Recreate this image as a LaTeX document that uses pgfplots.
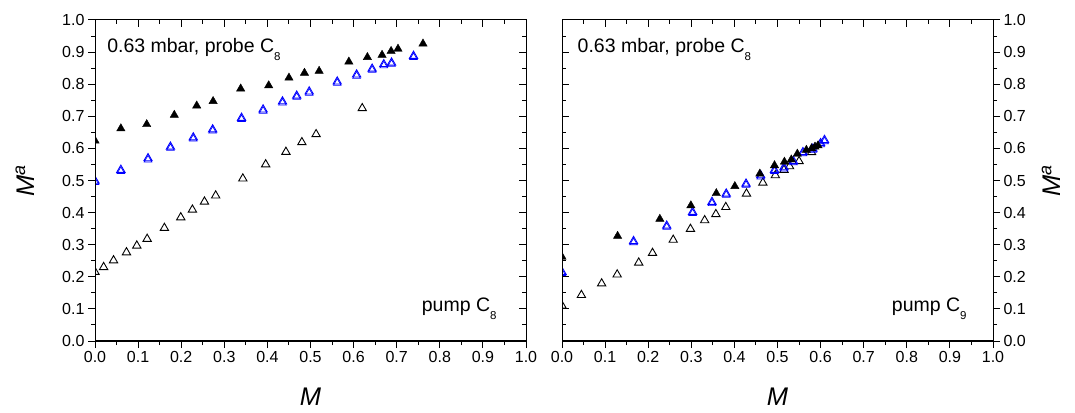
\documentclass[border=0pt]{standalone}
\usepackage{pgfplots}
\pgfplotsset{compat=1.18}
\usepackage{fontspec}
\setmainfont{Liberation Sans}
\newcommand{\sub}[1]{\raisebox{-0.42em}{\fontsize{11.5}{12}\selectfont #1}}

\pgfplotstableread{
x y
0 0.624
0.06 0.662
0.12 0.675
0.184 0.704
0.236 0.733
0.274 0.747
0.338 0.786
0.403 0.796
0.45 0.82
0.486 0.835
0.52 0.841
0.589 0.870
0.632 0.884
0.666 0.891
0.687 0.903
0.703 0.910
0.761 0.926
}\LeftFilled
\pgfplotstableread{
x y
0 0.499
0.06 0.533
0.123 0.569
0.175 0.605
0.228 0.634
0.273 0.659
0.34 0.695
0.39 0.721
0.435 0.746
0.468 0.764
0.497 0.777
0.562 0.808
0.607 0.830
0.643 0.848
0.670 0.862
0.688 0.867
0.739 0.888
}\LeftBlue
\pgfplotstableread{
x y
0 0.215
0.02 0.23
0.043 0.251
0.073 0.276
0.097 0.297
0.121 0.318
0.161 0.352
0.199 0.385
0.226 0.409
0.254 0.434
0.280 0.453
0.343 0.506
0.396 0.550
0.443 0.589
0.48 0.619
0.513 0.644
0.620 0.725
}\LeftOpen
\pgfplotstableread{
x y
0 0.262
0.129 0.327
0.227 0.380
0.299 0.422
0.358 0.46
0.401 0.482
0.459 0.521
0.493 0.547
0.516 0.558
0.532 0.565
0.546 0.583
0.567 0.595
0.579 0.600
0.587 0.605
0.594 0.609
}\RightFilled
\pgfplotstableread{
x y
0 0.215
0.166 0.311
0.243 0.359
0.303 0.402
0.348 0.433
0.381 0.459
0.427 0.490
0.461 0.516
0.493 0.533
0.515 0.541
0.537 0.560
0.559 0.588
0.582 0.599
0.600 0.616
0.609 0.626
}\RightBlue
\pgfplotstableread{
x y
0 0.11
0.045 0.143
0.092 0.179
0.128 0.207
0.178 0.244
0.210 0.274
0.258 0.315
0.298 0.349
0.331 0.376
0.357 0.395
0.38 0.417
0.428 0.459
0.466 0.493
0.495 0.516
0.515 0.533
0.528 0.544
0.55 0.56
0.579 0.588
}\RightOpen

\pgfplotsset{
  panel/.style={
    scale only axis, width=431pt, height=321pt,
    xmin=0, xmax=1, ymin=0, ymax=1,
    clip marker paths=true,
    xtick={0,0.1,...,1.0}, ytick={0,0.1,...,1.0},
    minor x tick num=1, minor y tick num=1,
    axis line style={line width=1pt},
    every tick/.style={line width=1pt, black},
    major tick length=7pt, minor tick length=4pt,
    ticklabel style={font=\fontsize{16}{19}\selectfont},
    /pgf/number format/.cd, fixed, fixed zerofill, precision=1, assume math mode=true,
  },
  overlay/.style={
    panel, tick align=inside, xtick pos=top,
    xticklabels={}, yticklabels={},
  },
  openmk/.style={only marks, mark=triangle, mark size=4.8pt, mark options={black, line width=0.9pt}},
  bluemk/.style={only marks, mark=triangle, mark size=4.8pt, mark options={blue, line width=0.9pt}},
  bluemk2/.style={only marks, mark=triangle, mark size=4.4pt, mark options={blue, fill=blue!22, line width=0.7pt, yshift=-1.4pt}},
  filledmk/.style={only marks, mark=triangle*, mark size=4.8pt, mark options={black, fill=black}},
}

\begin{document}
\begin{tikzpicture}
\useasboundingbox (0,0) rectangle (1075pt,412pt);
% ---------- left panel ----------
\begin{axis}[panel, at={(95pt,71pt)}, anchor=south west,
  tick align=outside, xtick pos=bottom, ytick pos=left,
  xlabel={\fontsize{25.5}{28}\selectfont\itshape M},
  ylabel={\fontsize{25.5}{28}\selectfont\itshape M\textsuperscript{a}},
  xlabel style={at={(axis description cs:0.5,-0.175)}, anchor=center},
  ylabel style={at={(axis description cs:-0.163,0.5)}, anchor=center},
]
\addplot[openmk] table {\LeftOpen};
\addplot[bluemk2] table {\LeftBlue};
\addplot[bluemk] table {\LeftBlue};
\addplot[filledmk] table {\LeftFilled};
\node[anchor=base west, font=\fontsize{19.5}{22}\selectfont, inner sep=0pt] at (rel axis cs:0.028,0.90) {0.63 mbar, probe C\sub{8}};
\node[anchor=base west, font=\fontsize{19.5}{22}\selectfont, inner sep=0pt] at (rel axis cs:0.758,0.091) {pump C\sub{8}};
\end{axis}
\begin{axis}[overlay, at={(95pt,71pt)}, anchor=south west, ytick pos=right]
\end{axis}
% ---------- right panel ----------
\begin{axis}[panel, at={(562pt,71pt)}, anchor=south west,
  tick align=outside, xtick pos=bottom, ytick pos=right, yticklabel pos=right,
  xlabel={\fontsize{25.5}{28}\selectfont\itshape M},
  ylabel={\fontsize{25.5}{28}\selectfont\itshape M\textsuperscript{a}},
  xlabel style={at={(axis description cs:0.5,-0.175)}, anchor=center},
  ylabel style={at={(axis description cs:1.135,0.5)}, anchor=center},
]
\addplot[openmk] table {\RightOpen};
\addplot[bluemk2] table {\RightBlue};
\addplot[bluemk] table {\RightBlue};
\addplot[filledmk] table {\RightFilled};
\node[anchor=base west, font=\fontsize{19.5}{22}\selectfont, inner sep=0pt] at (rel axis cs:0.036,0.90) {0.63 mbar, probe C\sub{8}};
\node[anchor=base west, font=\fontsize{19.5}{22}\selectfont, inner sep=0pt] at (rel axis cs:0.765,0.091) {pump C\sub{9}};
\end{axis}
\begin{axis}[overlay, at={(562pt,71pt)}, anchor=south west, ytick pos=left]
\end{axis}
\end{tikzpicture}
\end{document}
